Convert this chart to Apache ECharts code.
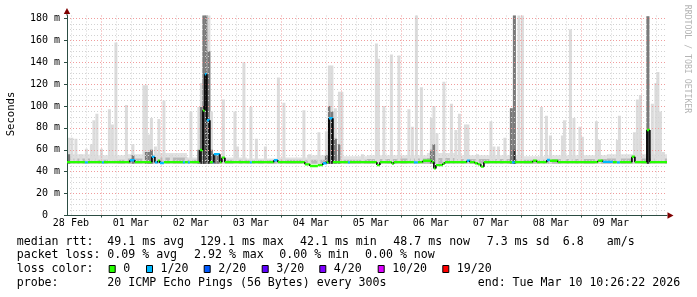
<!DOCTYPE html>
<html><head><meta charset="utf-8">
<script src="https://cdn.jsdelivr.net/npm/echarts@6/dist/echarts.min.js"></script>
<style>html,body{margin:0;padding:0;background:#fff}#c{width:697px;height:297px}</style>
</head><body><div id="c"></div>
<script>
// ---- time axis: hours since 28 Feb 2026 00:00 ----
const START_H = 10.44, END_H = 250.44;
const Y_MAX = 182.6;
const dayLabels = ['28 Feb','01 Mar','02 Mar','03 Mar','04 Mar','05 Mar','06 Mar','07 Mar','08 Mar','09 Mar'];
const dayLabelHours = [12,36,60,84,108,132,156,180,204,228];
const majorGridHours = [24,48,72,96,120,144,168,192,216,240];
const yLabelValues = [0,20,40,60,80,100,120,140,160,180];

// ---- smoke spikes (ms) ----
const spikeHours = [11.2,12.4,14.0,16.0,18.2,20.2,21.2,22.4,24.2,27.4,28.6,30.0,34.2,36.8,41.2,42.2,43.2,44.2,45.8,47.2,49.2,52.2,58.2,60.0,63.2,64.2,65.2,66.2,67.2,68.2,69.6,70.8,73.0,77.6,78.6,81.2,84.0,86.2,89.8,95.0,97.2,105.2,107.4,111.2,114.2,115.4,116.4,117.8,119.4,120.4,128.6,134.2,135.0,137.2,140.2,143.2,147.2,148.6,150.2,152.2,156.2,157.2,158.4,161.2,164.2,166.0,167.4,169.8,170.8,174.6,180.0,181.2,183.0,185.6,188.2,189.4,191.2,192.6,200.2,202.2,203.8,208.6,209.4,211.8,213.2,215.6,216.6,222.2,223.4,230.6,231.4,237.4,238.6,239.8,242.8,244.6,246.0,246.8,247.8,249.0];
const spikeTop   = [71,71,70,56,61,65,87,93,61,97,83,158,101,65,119,119,74,89,63,88,105,56,53,95,99,121,183,183,183,95,57,57,106,95,63,140,99,70,63,126,103,96,56,76,77,137,137,98,113,113,56,157,143,100,147,146,97,81,183,117,89,100,75,122,102,78,93,83,83,56,86,63,63,71,98,183,183,183,99,91,73,73,87,170,89,81,72,86,69,69,91,76,106,110,182,102,121,131,95,58];
const spikeMid   = [56,0,0,0,0,0,0,0,0,0,0,0,0,55,0,58,58,60,0,0,0,0,0,0,60,99,183,183,150,60,56,56,0,0,0,0,0,0,0,0,0,0,0,0,55,100,95,70,65,0,0,0,0,0,0,0,0,0,0,0,60,65,0,0,0,0,0,0,0,0,0,0,0,0,98,183,0,0,0,0,0,0,0,0,0,0,0,0,0,0,0,0,0,0,182,0,0,0,0,0];
const spikeDark  = [0,0,0,0,0,0,0,0,0,0,0,0,0,0,0,0,0,0,0,0,0,0,0,0,0,60,100,130,88,0,0,0,0,0,0,0,0,0,0,0,0,0,0,0,0,89,89,0,0,0,0,0,0,0,0,0,0,0,0,0,0,0,0,0,0,0,0,0,0,0,0,0,0,0,0,60,0,0,0,0,0,0,0,0,0,0,0,0,0,0,0,0,0,0,78,0,0,0,0,0];

// ---- baseline smoke band (12 h blocks) ----
const bandStart = [10.44,22.4,34.4,46.4,58.4,70.4,82.4,94.4,106.4,118.4,130.4,142.4,154.4,166.4,178.4,190.4,202.4,214.4,226.4,238.4];
const bandTop   = [56,55,56,57,53,53,52,53,55,54,55,55,57,55,55,54,55,55,56,56];
const bandMid   = [52,51,52,53,51,51,50.5,51,51,51,51.5,52,52.5,51.5,51.5,51,51.5,51.5,52,52];

// ---- median rtt (segments) and loss ----
const medianStart = [10.44,17.6,18.8,24.4,25.2,35.6,37.6,44.4,45.6,46.8,47.6,49.2,56.8,57.6,58.8,59.6,63.6,64.8,65.6,66.4,67.6,68.8,69.2,71.6,72.4,73.6,83.6,84.4,93.2,94.8,105.6,107.6,110.8,112.8,114.4,115.2,116.8,122.8,123.6,134.4,135.6,140.4,141.2,149.2,150.8,152.8,156.4,157.2,158.0,160.8,161.6,170.4,171.6,173.6,174.8,176.0,177.2,188.4,189.6,196.8,198.4,202.4,203.6,206.8,222.8,224.8,228.8,230.4,231.6,236.4,237.6,242.4,243.6];
const medianValue = [48.7,48.5,48.7,48.5,48.7,50.5,48.7,53.5,48.5,50.0,48.0,48.7,48.5,48.7,48.5,48.7,59.8,96,129,87,48.7,48.5,56,48.7,52.8,48.7,48.5,48.7,50.5,48.7,46.7,45.2,46.0,47.7,48.7,88.8,48.7,48.5,48.7,46.0,48.7,47.5,48.7,48.5,48.7,50.0,48.7,43.0,46.0,47.5,48.7,50.0,48.7,47.7,46.7,44.6,48.7,48.5,48.7,50.0,48.7,50.7,50.0,48.7,50.0,49.0,48.7,48.5,48.7,53.7,48.7,78,48.7];
const medianLoss  = [0,1,0,1,0,1,0,1,1,0,1,0,1,0,1,0,0,0,1,1,0,1,1,0,0,0,1,0,1,0,0,0,0,1,0,1,0,1,0,0,0,0,0,1,0,0,0,0,0,0,0,1,0,0,0,0,0,1,0,0,0,1,0,0,0,1,0,1,0,0,0,0,0];

const lossLabels = ['0','1/20','2/20','3/20','4/20','10/20','19/20'];
const lossColors = ['#26ff00','#00b8ff','#0059ff','#5e00ff','#7e00ff','#dd00ff','#ff0000'];

const statRtt  = ['49.1 ms avg','129.1 ms max','42.1 ms min','48.7 ms now','7.3 ms sd','6.8','am/s'];
const statLoss = ['0.09 % avg','2.92 % max','0.00 % min','0.00 % now'];
const probeText = '20 ICMP Echo Pings (56 Bytes) every 300s';
const endText = 'end: Tue Mar 10 10:26:22 2026';

// ---- layout ----
const MONO = '"DejaVu Sans Mono", monospace';
const G = {left:67, top:15.5, width:600, height:200};
const AXIS_C = '#2c4d43', ARROW_C = '#7f0000';
const SMOKE_W = 1.2, SMOKE_BASE = 47.3;

const minorX = []; for (let h = 12; h < END_H; h += 6) if (h % 24 !== 0) minorX.push(h);
const minorY = []; for (let v = 5; v <= 180; v += 5) if (v % 20 !== 0) minorY.push(v);

function rectBetween(api, x0, x1, lo, hi) {
  const a = api.coord([x0, hi]), b = api.coord([x1, lo]);
  return {x: a[0], y: a[1], width: b[0] - a[0], height: b[1] - a[1]};
}

const chart = echarts.init(document.getElementById('c'), null, {renderer: 'canvas'});

const graphic = [];
function txt(x, y, s, extra) {
  graphic.push(Object.assign({type:'text', x:x, y:y, silent:true,
    style:{text:s, font:'11.6px ' + MONO, fill:'#000', align:'left', verticalAlign:'middle'}}, extra || {}));
}
// axis name & watermark
graphic.push({type:'text', x:11, y:114, rotation:Math.PI/2, style:{text:'Seconds', font:'10.6px ' + MONO, fill:'#000', align:'center', verticalAlign:'middle'}});
graphic.push({type:'text', x:687, y:59, rotation:-Math.PI/2, style:{text:'RRDTOOL / TOBI OETIKER', font:'8.2px ' + MONO, fill:'#b4b4b4', align:'center', verticalAlign:'middle'}});
// arrows
graphic.push({type:'polyline', shape:{points:[[67,15.5],[67,12]]}, style:{stroke:AXIS_C, lineWidth:1}});
graphic.push({type:'polygon', shape:{points:[[67,8],[63.8,14],[70.2,14]]}, style:{fill:ARROW_C}});
graphic.push({type:'polygon', shape:{points:[[673.5,215.5],[667.5,212.3],[667.5,218.7]]}, style:{fill:ARROW_C}});
// legend rows
const rttX = [107.3,200,300,393.3,486.7,562.7,606.7];
txt(16.7, 241.7, 'median rtt:');
statRtt.forEach((s,i) => txt(rttX[i], 241.7, s));
const lossX = [107.3,194,279.3,365];
txt(16.7, 255.2, 'packet loss:');
statLoss.forEach((s,i) => txt(lossX[i], 255.2, s));
txt(16.7, 269, 'loss color:');
const boxX = [108.7,146,203.7,261.7,319.3,377.7,442.3];
lossLabels.forEach((s,i) => {
  graphic.push({type:'rect', shape:{x:boxX[i]+0.5, y:265.5, width:6, height:7}, style:{fill:lossColors[i], stroke:'#000', lineWidth:1}});
  txt(boxX[i] + 14.5, 269, s);
});
txt(16.7, 282.8, 'probe:');
txt(107.3, 282.8, probeText);
txt(477.7, 282.8, endText);

const medianData = medianStart.map((s,i) => [s, i+1 < medianStart.length ? medianStart[i+1] : END_H, medianValue[i], medianLoss[i], i > 0 ? medianValue[i-1] : medianValue[i]]);
const spikeData = spikeHours.map((h,i) => [h, spikeTop[i], spikeMid[i], spikeDark[i]]);
const bandData = bandStart.map((s,i) => [s, i+1 < bandStart.length ? bandStart[i+1] : END_H, bandTop[i], bandMid[i]]);

chart.setOption({
  animation:false,
  backgroundColor:'#ffffff',
  grid:{left:G.left, top:G.top, width:G.width, height:G.height, containLabel:false, outerBoundsMode:'none'},
  xAxis:[
    {type:'value', min:START_H, max:END_H, position:'bottom', z:3,
     axisLine:{show:false}, axisTick:{show:false, customValues:minorX},
     splitLine:{show:true, lineStyle:{color:'#d2d2d2', type:[1,2], width:1}},
     axisLabel:{show:true, customValues:dayLabelHours, formatter:v => dayLabels[dayLabelHours.indexOf(v)] || '',
       fontFamily:MONO, fontSize:10, color:'#000', margin:3}},
    {type:'value', min:START_H, max:END_H, position:'bottom', z:3,
     axisLine:{show:true, lineStyle:{color:AXIS_C, width:1}},
     axisTick:{show:true, customValues:majorGridHours, length:2, lineStyle:{color:AXIS_C}},
     splitLine:{show:true, lineStyle:{color:'#f09c9c', type:[1,2], width:1}},
     axisLabel:{show:false}}
  ],
  yAxis:[
    {type:'value', min:0, max:Y_MAX, position:'left', z:3,
     axisLine:{show:false}, axisTick:{show:false, customValues:minorY}, axisLabel:{show:false},
     splitLine:{show:true, lineStyle:{color:'#d2d2d2', type:[1,2], width:1}}},
    {type:'value', min:0, max:Y_MAX, position:'left', z:3,
     axisLine:{show:true, lineStyle:{color:AXIS_C, width:1}},
     axisTick:{show:true, customValues:yLabelValues, length:3, lineStyle:{color:AXIS_C}},
     splitLine:{show:true, lineStyle:{color:'#f09c9c', type:[1,2], width:1}},
     axisLabel:{show:true, customValues:yLabelValues, formatter:v => v === 0 ? '0  ' : v + ' m',
       fontFamily:MONO, fontSize:10, color:'#000', margin:7}}
  ],
  series:[
    {type:'custom', name:'band', xAxisIndex:0, yAxisIndex:0, z:1, clip:true, silent:true,
     data:bandData, encode:{x:[0,1], y:[2,3]},
     renderItem:(p, api) => {
       const s = api.value(0), e = api.value(1), t = api.value(2), m = api.value(3);
       return {type:'group', children:[
         {type:'rect', shape:rectBetween(api, s, e, SMOKE_BASE, t), style:{fill:'#e2e2e2'}},
         {type:'rect', shape:rectBetween(api, s, e, SMOKE_BASE, m), style:{fill:'#b9b9b9'}}
       ]};
     }},
    {type:'custom', name:'smoke', xAxisIndex:0, yAxisIndex:0, z:1, clip:true, silent:true,
     data:spikeData, encode:{x:0, y:[1,2,3]},
     renderItem:(p, api) => {
       const h = api.value(0), t = api.value(1), m = api.value(2), d = api.value(3);
       const x0 = h - SMOKE_W/2, x1 = h + SMOKE_W/2;
       const ch = [{type:'rect', shape:rectBetween(api, x0, x1, SMOKE_BASE, t), style:{fill:'#dcdcdc'}}];
       if (m > 0) ch.push({type:'rect', shape:rectBetween(api, x0, x1, SMOKE_BASE, m), style:{fill:'#7a7a7a'}});
       if (d > 0) ch.push({type:'rect', shape:rectBetween(api, x0 + SMOKE_W*0.2, x1 - SMOKE_W*0.2, SMOKE_BASE, d), style:{fill:'#2a2a2a'}});
       return {type:'group', children:ch};
     }},
    {type:'custom', name:'median', xAxisIndex:0, yAxisIndex:0, z:5, clip:true, silent:true,
     data:medianData, encode:{x:[0,1], y:[2,4]},
     renderItem:(p, api) => {
       const s = api.value(0), e = api.value(1), v = api.value(2), l = api.value(3), pv = api.value(4);
       const a = api.coord([s, v]), b = api.coord([e, v]);
       const ch = [];
       if (Math.abs(pv - v) > 0.9) {
         const q = api.coord([s, pv]);
         ch.push({type:'line', shape:{x1:a[0], y1:q[1], x2:a[0], y2:a[1]}, style:{stroke:'#000', lineWidth:1.6}});
       }
       ch.push({type:'rect', shape:{x:a[0], y:a[1]-1.2, width:b[0]-a[0], height:2.4}, style:{fill:lossColors[l]}});
       return {type:'group', children:ch};
     }}
  ],
  graphic:graphic
});
</script></body></html>
